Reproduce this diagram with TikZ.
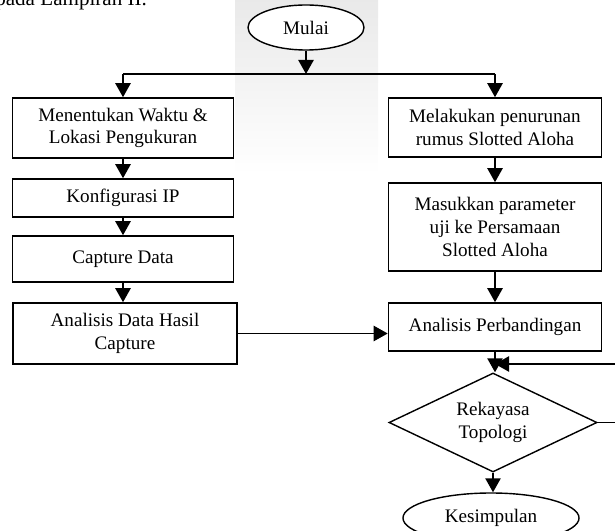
\documentclass[tikz,border=0pt]{standalone}
\usepackage{fontspec}
\setmainfont{Liberation Serif}
\usepackage{tikz}
\usetikzlibrary{arrows.meta, shapes.geometric}

\begin{document}
\begin{tikzpicture}[
    x=0.025cm, y=-0.025cm,
    font=\fontsize{13.6}{16.2}\selectfont,
    box/.style={draw, line width=1.1pt, minimum width=5.525cm, align=center, inner sep=2pt, fill=white},
    terminal/.style={draw, ellipse, line width=1pt, inner sep=1pt, fill=white},
    decision/.style={draw, diamond, aspect=2.1, line width=1pt, inner sep=0pt, align=center, fill=white,
        minimum width=5.2cm, minimum height=2.475cm},
    arrow/.style={-{Triangle[length=3.5mm, width=3.8mm]}, line width=1.3pt},
    line/.style={line width=1pt}
]
\useasboundingbox (0,0) rectangle (615,530);

% --- background (scan watermark) ---
\shade[top color=gray!17, bottom color=white] (235,0) rectangle (378,175);
\node[anchor=base west, font=\fontsize{15}{18}\selectfont, inner sep=0pt] (lampiran) at (-5,6) {pada Lampiran II.};

% --- start ---
\node[terminal, minimum width=2.9cm, minimum height=1.125cm] (mulai) at (306,27.5) {Mulai};
\coordinate (split) at (306,74);

% --- left column ---
\node[box, minimum height=1.5cm] (waktu) at (123,128) {Menentukan Waktu \&\\Lokasi Pengukuran};
\node[box, minimum height=0.95cm] (ip) at (123,198) {Konfigurasi IP};
\node[box, minimum height=1.15cm] (capture) at (123,259) {Capture Data};
\node[box, minimum width=5.6cm, minimum height=1.525cm] (analisisdata) at (125,333.5) {Analisis Data Hasil\\Capture};

% --- right column ---
\node[box, minimum width=5.325cm, minimum height=1.475cm] (melakukan) at (495,127.5) {Melakukan penurunan\\rumus Slotted Aloha};
\node[box, minimum width=5.325cm, minimum height=2.2cm] (masukkan) at (495,227) {Masukkan parameter\\uji ke Persamaan\\Slotted Aloha};
\node[box, minimum width=5.325cm, minimum height=1.2cm] (perbandingan) at (495,327) {Analisis Perbandingan};
\node[decision] (rekayasa) at (493,422.5) {Rekayasa\\Topologi};
\node[terminal, minimum width=4.4cm, minimum height=1.25cm] (kesimpulan) at (491,518) {Kesimpulan};
\coordinate (balik) at (630,364);

% --- connectors ---
\draw[arrow] (mulai.south) -- (split);
\draw[line] (split -| waktu.north) -- (split -| melakukan.north);
\draw[arrow] (split -| waktu.north) -- (waktu.north);
\draw[arrow] (split -| melakukan.north) -- (melakukan.north);
\draw[arrow] (waktu) -- (ip);
\draw[arrow] (ip) -- (capture);
\draw[arrow] (capture.south) -- (capture.south |- analisisdata.north);
\draw[arrow] (melakukan) -- (masukkan);
\draw[arrow] (masukkan) -- (perbandingan);
\draw[arrow] (analisisdata.east) -- (analisisdata.east -| perbandingan.west);
\draw[arrow] (perbandingan.south) -- (perbandingan.south |- rekayasa.north);
\draw[arrow] (rekayasa.south) -- (rekayasa.south |- kesimpulan.north);
\draw[arrow] (rekayasa.east) -| (balik) -- (balik -| perbandingan.south);

\end{tikzpicture}
\end{document}
